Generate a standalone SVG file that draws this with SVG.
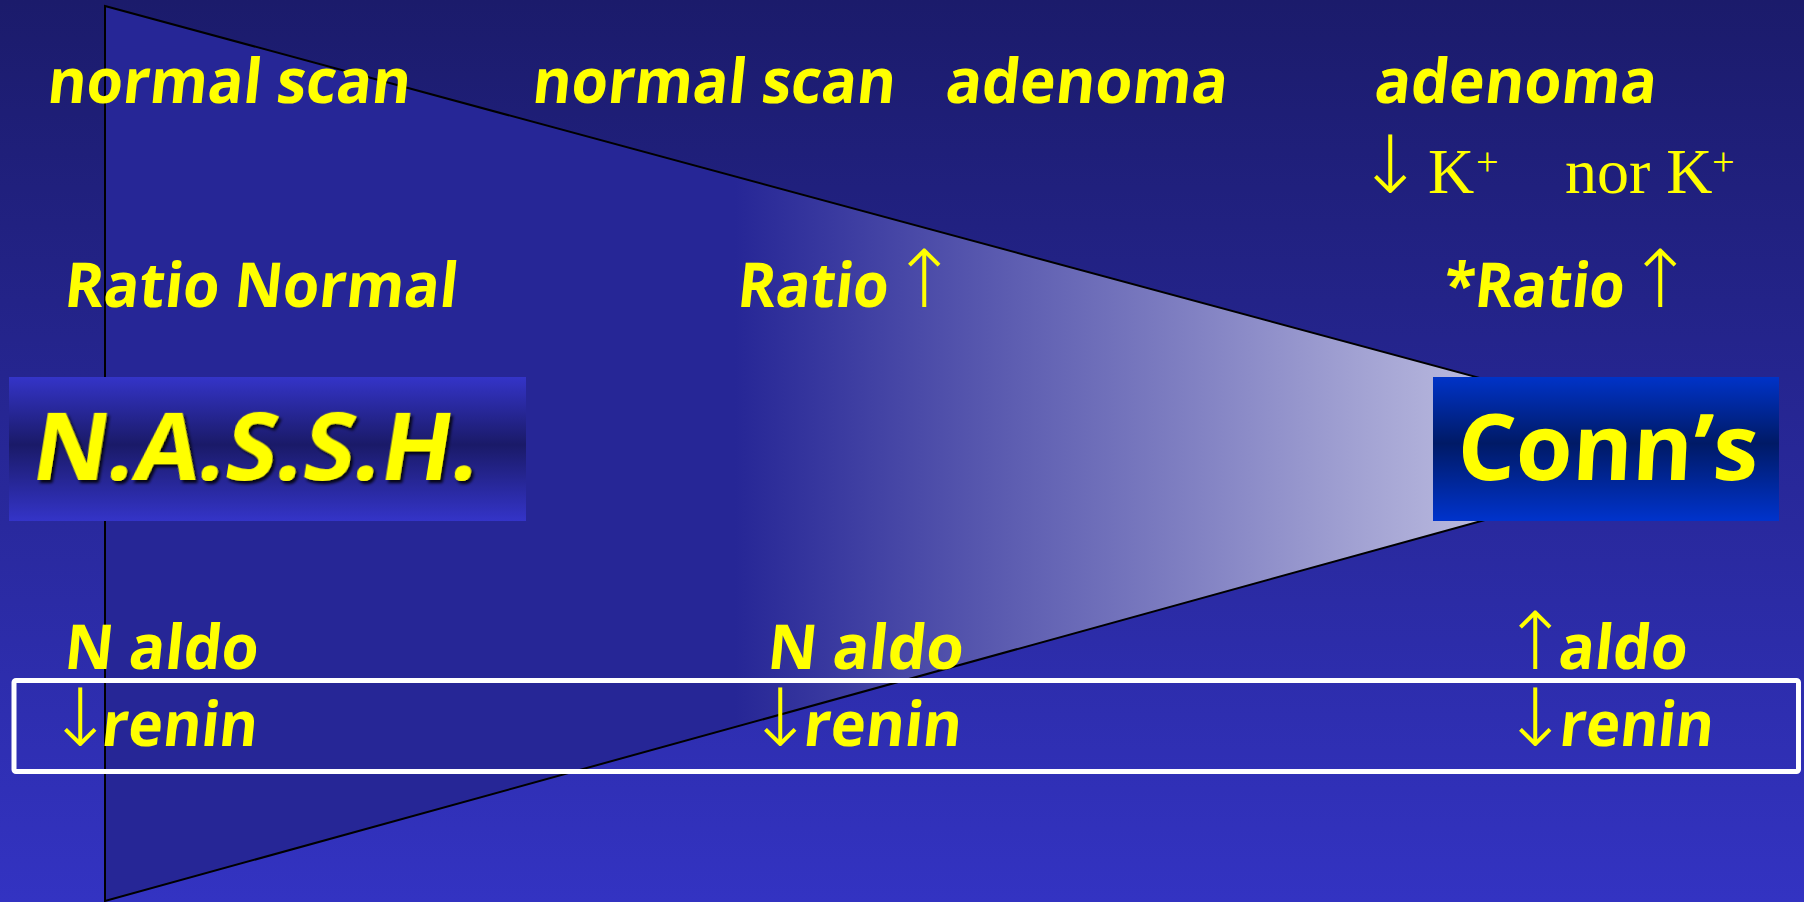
<svg xmlns="http://www.w3.org/2000/svg" width="1804" height="902" viewBox="0 0 1804 902">
  <defs>
    <linearGradient id="bg" x1="0" y1="0" x2="0" y2="1">
      <stop offset="0" stop-color="#1b1b6b"/>
      <stop offset="1" stop-color="#3333c2"/>
    </linearGradient>
    <linearGradient id="funnelFill" gradientUnits="userSpaceOnUse" x1="735" y1="0" x2="1742" y2="0">
      <stop offset="0" stop-color="#262696"/>
      <stop offset="1" stop-color="#eeeef8"/>
    </linearGradient>
    <linearGradient id="nasshFill" x1="0" y1="0" x2="0" y2="1">
      <stop offset="0" stop-color="#3434c8"/>
      <stop offset="0.47" stop-color="#1a1a68"/>
      <stop offset="1" stop-color="#3434c8"/>
    </linearGradient>
    <linearGradient id="connFill" x1="0" y1="0" x2="0" y2="1">
      <stop offset="0" stop-color="#0033c8"/>
      <stop offset="0.46" stop-color="#001a66"/>
      <stop offset="1" stop-color="#0033cc"/>
    </linearGradient>
    <filter id="shadow" x="-5%" y="-10%" width="115%" height="130%">
      <feDropShadow dx="3" dy="3" stdDeviation="1.5" flood-color="#000000" flood-opacity="0.85"/>
    </filter>
  </defs>
  <style>
    .t { font-family: "Open Sans", "Liberation Sans", sans-serif; font-weight: bold; font-size: 62px; fill: #ffff00; }
    .ar { font-family: "DejaVu Sans", "Liberation Serif", serif; font-weight: 200; font-size: 80px; fill: #ffff00; text-anchor: middle; }
    .tm { font-family: "Liberation Serif", "Times New Roman", serif; font-size: 64px; fill: #ffff00; }
    .sup { font-size: 40px; }
    .big { font-family: "Open Sans", "Liberation Sans", sans-serif; font-weight: bold; fill: #ffff00; }
  </style>

  <rect x="0" y="0" width="1804" height="902" fill="url(#bg)"/>

  <g id="funnel">
    <polygon points="105,6 1742,449 105,901" fill="url(#funnelFill)" stroke="#000000" stroke-width="2"/>
  </g>

  <g id="connectors"></g>

  <g id="row-scan">
    <text class="t" transform="translate(46,103) skewX(-6)" textLength="363" lengthAdjust="spacingAndGlyphs">normal scan</text>
    <text class="t" transform="translate(531,103) skewX(-6)" textLength="363" lengthAdjust="spacingAndGlyphs">normal scan</text>
    <text class="t" transform="translate(944,103) skewX(-6)" textLength="282" lengthAdjust="spacingAndGlyphs">adenoma</text>
    <text class="t" transform="translate(1373,103) skewX(-6)" textLength="282" lengthAdjust="spacingAndGlyphs">adenoma</text>
  </g>

  <g id="row-potassium">
    <text class="ar" x="1390" y="193">↓</text>
    <text class="tm" y="193"><tspan x="1428">K</tspan><tspan class="sup" x="1476" y="175">+</tspan></text>
    <text class="tm" y="193"><tspan x="1565">nor K</tspan><tspan class="sup" x="1712" y="175">+</tspan></text>
  </g>

  <g id="row-ratio">
    <text class="t" transform="translate(63,307) skewX(-6)" textLength="393" lengthAdjust="spacingAndGlyphs">Ratio Normal</text>
    <text class="t" transform="translate(736,307) skewX(-6)" textLength="151" lengthAdjust="spacingAndGlyphs">Ratio</text>
    <text class="ar" x="924" y="307">↑</text>
    <text class="t" transform="translate(1442,307) skewX(-6)" textLength="181" lengthAdjust="spacingAndGlyphs">*Ratio</text>
    <text class="ar" x="1660" y="307">↑</text>
  </g>

  <g id="nassh">
    <rect x="9" y="377" width="517" height="144" fill="url(#nasshFill)"/>
    <text class="big" transform="translate(29,480) skewX(-9)" font-size="94" textLength="446" lengthAdjust="spacingAndGlyphs" filter="url(#shadow)">N.A.S.S.H.</text>
  </g>

  <g id="conns">
    <rect x="1433" y="377" width="346" height="144" fill="url(#connFill)"/>
    <text class="big" transform="translate(1456,480) skewX(-3)" font-size="92" textLength="301" lengthAdjust="spacingAndGlyphs">Conn’s</text>
  </g>

  <g id="highlight">
    <rect x="14" y="680.5" width="1784.5" height="91" rx="2" fill="none" stroke="#ffffff" stroke-width="5"/>
  </g>

  <g id="col-left">
    <text class="t" transform="translate(63,669) skewX(-6)" textLength="194" lengthAdjust="spacingAndGlyphs">N aldo</text>
    <text class="ar" x="80" y="746">↓</text>
    <text class="t" transform="translate(100,746) skewX(-6)" textLength="156" lengthAdjust="spacingAndGlyphs">renin</text>
  </g>

  <g id="col-mid">
    <text class="t" transform="translate(766,669) skewX(-6)" textLength="196" lengthAdjust="spacingAndGlyphs">N aldo</text>
    <text class="ar" x="780" y="746">↓</text>
    <text class="t" transform="translate(802,746) skewX(-6)" textLength="158" lengthAdjust="spacingAndGlyphs">renin</text>
  </g>

  <g id="col-right">
    <text class="ar" x="1535" y="669">↑</text>
    <text class="t" transform="translate(1557,669) skewX(-6)" textLength="129" lengthAdjust="spacingAndGlyphs">aldo</text>
    <text class="ar" x="1535" y="746">↓</text>
    <text class="t" transform="translate(1558,746) skewX(-6)" textLength="154" lengthAdjust="spacingAndGlyphs">renin</text>
  </g>
</svg>
